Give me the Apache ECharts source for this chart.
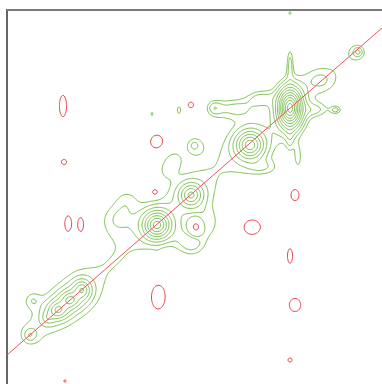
<!DOCTYPE html>
<html>
<head>
<meta charset="utf-8">
<script src="https://cdn.jsdelivr.net/npm/echarts@6/dist/echarts.min.js"></script>
<style>
  html, body { margin: 0; padding: 0; background: #fff; }
  #chart { width: 382px; height: 384px; }
</style>
</head>
<body>
<div id="chart"></div>
<script>
// 2D homonuclear spectrum, chemical shifts in ppm (F2 horizontal, F1 vertical)
const f2Range = [0, 10];
const f1Range = [0, 10];

// Resolved signals: [f2 ppm, f1 ppm, width f2, width f1, intensity]
const diagonalPeaks = [
  [2.453, 2.620, 0.107, 0.179, 70],
  [3.520, 3.610, 0.160, 0.160, 20],
  [5.093, 4.947, 0.147, 0.147, 12],
  [6.000, 5.749, 0.155, 0.155, 26],
  [8.000, 7.487, 0.120, 0.134, 10],
  [8.640, 8.021, 0.133, 0.120, 11],
  [8.320, 7.754, 0.133, 0.120, 11],
  [9.387, 8.690, 0.107, 0.107, 3.0],
  [8.907, 8.235, 0.107, 0.107, 3.0]
];

// Small isolated positive signals
const minorPeaks = [
  [5.413, 2.674, 0.053, 0.107, 4],
  [4.480, 2.620, 0.147, 0.147, 4],
  [5.013, 3.610, 0.160, 0.160, 3.3],
  [6.133, 2.781, 0.030, 0.060, 4],
  [2.453, 0.080, 0.035, 0.045, 4],
  [0.640, 1.123, 0.080, 0.080, 4]
];

// Negative (phase-inverted) signals
const negativePeaks = [
  [8.507, 2.567, 0.083, 0.251, -5],
  [8.480, 4.064, 0.059, 0.059, -5],
  [8.373, 5.722, 0.080, 0.193, -5],
  [8.027, 5.749, 0.077, 0.193, -5],
  [6.000, 3.529, 0.157, 0.168, -5],
  [5.093, 2.540, 0.072, 0.072, -5],
  [6.053, 4.866, 0.050, 0.050, -9],
  [4.960, 5.802, 0.090, 0.110, -10],
  [3.467, 5.802, 0.203, 0.179, -5],
  [2.320, 4.947, 0.096, 0.134, -5],
  [2.453, 6.578, 0.059, 0.168, -5],
  [2.320, 7.888, 0.133, 0.155, -5],
  [2.453, 9.358, 0.048, 0.048, -5],
  [5.973, 7.647, 0.179, 0.321, -5],
  [8.453, 9.920, 0.030, 0.030, -5]
];

// Broad intensity running along the diagonal
const diagonalRidge = [
  [9.387, 8.690, 0.60, 0.60, 1.8],
  [8.587, 7.989, 0.80, 0.80, 2.0],
  [7.787, 7.289, 0.75, 0.75, 1.9],
  [6.987, 6.591, 0.60, 0.60, 1.7],
  [6.187, 5.890, 0.69, 0.69, 1.8],
  [5.387, 5.190, 0.69, 0.69, 1.8],
  [4.587, 4.492, 0.69, 0.69, 1.8],
  [3.787, 3.792, 0.69, 0.69, 1.8],
  [2.987, 3.093, 0.69, 0.69, 1.8],
  [2.187, 2.393, 0.69, 0.69, 1.8],
  [1.387, 1.693, 0.60, 0.60, 1.8],
  [0.720, 1.110, 0.45, 0.45, 1.8]
];

// Shoulders and t1 streaks beside the diagonal
const shoulders = [
  [7.120, 5.561, 0.370, 0.350, 2.8],
  [6.827, 5.027, 0.270, 0.270, 2.0],
  [5.787, 4.278, 0.240, 0.240, 1.8],
  [5.600, 3.957, 0.210, 0.210, 2.5],
  [5.253, 6.203, 0.270, 0.270, 1.6],
  [4.720, 5.749, 0.320, 0.320, 3.0],
  [4.987, 6.283, 0.270, 0.270, 2.6],
  [5.973, 6.818, 0.107, 0.214, 2.2],
  [3.120, 4.225, 0.320, 0.160, 2.2],
  [3.920, 2.620, 0.370, 0.210, 3.2],
  [3.253, 2.353, 0.270, 0.160, 2.8],
  [1.787, 2.674, 0.270, 0.130, 2.4],
  [1.227, 2.674, 0.107, 0.080, 3.3],
  [2.453, 1.390, 0.067, 0.320, 3.4],
  [2.240, 3.957, 0.080, 0.267, 3.0],
  [2.453, 3.476, 0.080, 0.267, 2.0],
  [1.653, 1.872, 0.270, 0.200, 1.8],
  [9.333, 7.754, 0.160, 0.160, 2.0]
];

// Diagonal reference line (f2, f1)
const diagonalLine = [[10, 9.225], [0, 0.481]];

// Contour levels: geometric series for positive, single level for negative
const baseLevel = 3;
const levelFactor = 1.35;
const levelCount = 12;

// Peak line shapes
const sharpShape = q => Math.exp(1 - Math.sqrt(1 + q));
const broadShape = q => Math.exp(-0.5 * q);

// Sample the spectrum on a regular grid
const step = 0.025;
const nx = Math.round((f2Range[1] - f2Range[0]) / step) + 1;
const ny = Math.round((f1Range[1] - f1Range[0]) / step) + 1;
const field = new Float64Array(nx * ny);
function addPeaks(list, shape, reach) {
  for (const [px, py, sx, sy, a] of list) {
    const i0 = Math.max(0, Math.floor((px - reach * sx - f2Range[0]) / step));
    const i1 = Math.min(nx - 1, Math.ceil((px + reach * sx - f2Range[0]) / step));
    const j0 = Math.max(0, Math.floor((py - reach * sy - f1Range[0]) / step));
    const j1 = Math.min(ny - 1, Math.ceil((py + reach * sy - f1Range[0]) / step));
    for (let j = j0; j <= j1; j++) {
      const dy = (f1Range[0] + j * step - py) / sy;
      for (let i = i0; i <= i1; i++) {
        const dx = (f2Range[0] + i * step - px) / sx;
        field[j * nx + i] += a * shape(dx * dx + dy * dy);
      }
    }
  }
}
addPeaks(diagonalPeaks, sharpShape, 12);
addPeaks(minorPeaks, sharpShape, 8);
addPeaks(negativePeaks, sharpShape, 8);
addPeaks(diagonalRidge, broadShape, 5);
addPeaks(shoulders, broadShape, 5);

// Marching squares, segments chained into polylines
const SEG = {
  1: [[3, 0]], 2: [[0, 1]], 3: [[3, 1]], 4: [[1, 2]],
  6: [[0, 2]], 7: [[3, 2]], 8: [[2, 3]], 9: [[0, 2]],
  11: [[1, 2]], 12: [[1, 3]], 13: [[0, 1]], 14: [[3, 0]]
};
function contourLines(sign, level) {
  const val = (i, j) => sign * field[j * nx + i];
  const adj = new Map();
  const pos = new Map();
  function edgePoint(e, i, j) {
    let ia, ja, ib, jb, key;
    if (e === 0) { ia = i; ja = j; ib = i + 1; jb = j; key = 'h' + i + ',' + j; }
    else if (e === 1) { ia = i + 1; ja = j; ib = i + 1; jb = j + 1; key = 'v' + (i + 1) + ',' + j; }
    else if (e === 2) { ia = i; ja = j + 1; ib = i + 1; jb = j + 1; key = 'h' + i + ',' + (j + 1); }
    else { ia = i; ja = j; ib = i; jb = j + 1; key = 'v' + i + ',' + j; }
    if (!pos.has(key)) {
      const va = val(ia, ja), vb = val(ib, jb);
      const t = (level - va) / (vb - va);
      pos.set(key, [f2Range[0] + (ia + t * (ib - ia)) * step, f1Range[0] + (ja + t * (jb - ja)) * step]);
    }
    return key;
  }
  function link(k1, k2) {
    if (!adj.has(k1)) adj.set(k1, []);
    if (!adj.has(k2)) adj.set(k2, []);
    adj.get(k1).push(k2);
    adj.get(k2).push(k1);
  }
  for (let j = 0; j < ny - 1; j++) {
    for (let i = 0; i < nx - 1; i++) {
      const a = val(i, j), b = val(i + 1, j), c = val(i + 1, j + 1), d = val(i, j + 1);
      const idx = (a > level ? 1 : 0) | (b > level ? 2 : 0) | (c > level ? 4 : 0) | (d > level ? 8 : 0);
      if (idx === 0 || idx === 15) continue;
      let segs = SEG[idx];
      if (idx === 5 || idx === 10) {
        const centre = (a + b + c + d) / 4 > level;
        if (idx === 5) segs = centre ? [[3, 2], [0, 1]] : [[3, 0], [1, 2]];
        else segs = centre ? [[0, 3], [2, 1]] : [[0, 1], [2, 3]];
      }
      for (const [e1, e2] of segs) link(edgePoint(e1, i, j), edgePoint(e2, i, j));
    }
  }
  const used = new Set();
  const lines = [];
  function walk(start) {
    const pts = [pos.get(start)];
    used.add(start);
    let cur = start;
    for (;;) {
      const next = adj.get(cur).find(k => !used.has(k));
      if (next === undefined) {
        if (adj.get(cur).includes(start) && pts.length > 2) pts.push(pos.get(start));
        break;
      }
      used.add(next);
      pts.push(pos.get(next));
      cur = next;
    }
    lines.push(pts);
  }
  for (const k of adj.keys()) if (adj.get(k).length === 1 && !used.has(k)) walk(k);
  for (const k of adj.keys()) if (!used.has(k)) walk(k);
  return lines;
}

const positiveLines = [];
for (let k = 0; k < levelCount; k++) {
  positiveLines.push(...contourLines(1, baseLevel * Math.pow(levelFactor, k)));
}
const negativeLines = contourLines(-1, baseLevel);

function contourSeries(name, lines, color) {
  return {
    type: 'custom',
    name: name,
    coordinateSystem: 'cartesian2d',
    silent: true,
    animation: false,
    encode: { x: 0, y: 1 },
    data: lines.map((pts, i) => [pts[0][0], pts[0][1], i]),
    renderItem: function (params, api) {
      const pts = lines[api.value(2)].map(p => api.coord(p));
      return {
        type: 'polyline',
        shape: { points: pts },
        style: { stroke: color, fill: null, lineWidth: 1 }
      };
    }
  };
}

const chart = echarts.init(document.getElementById('chart'), null, { renderer: 'canvas' });
chart.setOption({
  animation: false,
  backgroundColor: '#ffffff',
  grid: { left: 7, right: 0, top: 10, bottom: 0 },
  xAxis: {
    type: 'value', position: 'top', inverse: true,
    min: f2Range[0], max: f2Range[1],
    axisLine: { show: true, onZero: false, lineStyle: { color: '#7a7a7a', width: 2 } },
    axisTick: { show: false }, axisLabel: { show: false }, splitLine: { show: false }
  },
  yAxis: {
    type: 'value', inverse: true,
    min: f1Range[0], max: f1Range[1],
    axisLine: { show: true, onZero: false, lineStyle: { color: '#333333', width: 1.5 } },
    axisTick: { show: false }, axisLabel: { show: false }, splitLine: { show: false }
  },
  graphic: [
    { type: 'rect', shape: { x: 6, y: 9, width: 12, height: 2 }, style: { fill: '#555555' } },
    { type: 'rect', shape: { x: 18, y: 9, width: 6, height: 2 }, style: { fill: '#d4d4d4' } },
    { type: 'rect', shape: { x: 24, y: 9, width: 28, height: 2 }, style: { fill: '#555555' } },
    { type: 'rect', shape: { x: 52, y: 9, width: 101, height: 2 }, style: { fill: '#d9d9d9' } },
    { type: 'rect', shape: { x: 153, y: 9, width: 12, height: 2 }, style: { fill: '#555555' } }
  ],
  series: [
    contourSeries('positive', positiveLines, '#78c04a'),
    contourSeries('negative', negativeLines, '#ec3a40'),
    {
      type: 'line', name: 'diagonal', data: diagonalLine,
      symbol: 'none', silent: true,
      lineStyle: { color: '#f0505a', width: 1 }
    }
  ]
});
</script>
</body>
</html>
